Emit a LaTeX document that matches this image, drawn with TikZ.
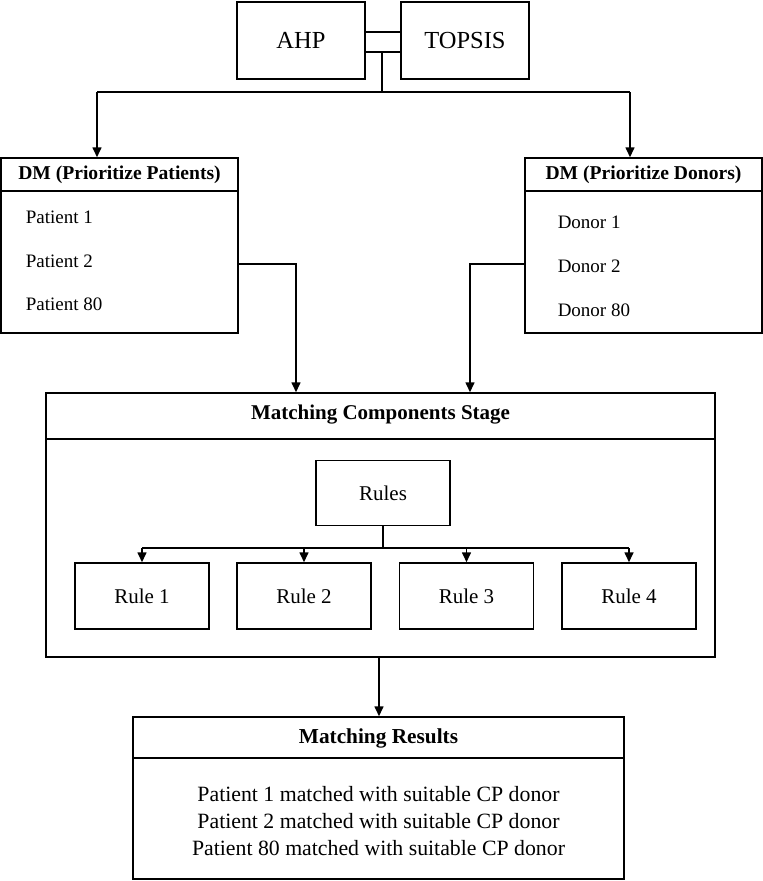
\documentclass[tikz,border=0pt]{standalone}
\usepackage{fontspec}
\setmainfont{Liberation Serif}
\usetikzlibrary{arrows.meta}
\begin{document}
\begin{tikzpicture}[x=1pt,y=-1pt,line width=1.5pt,
  box/.style={draw,line width=1.5pt,inner sep=0pt,align=center},
  item/.style={inner sep=0pt,anchor=base west,font=\fontsize{19}{22}\selectfont},
  ttl/.style={inner sep=0pt,font=\bfseries\fontsize{19.6}{23}\selectfont},
  res/.style={inner sep=0pt,anchor=base,font=\fontsize{21.8}{26}\selectfont},
  rulebox/.style={box,minimum width=134pt,minimum height=66pt,font=\fontsize{21}{24}\selectfont},
  arr/.style={-{Triangle[length=10pt,width=9pt]},line width=1.6pt},
  ln/.style={line width=1.6pt}]
\useasboundingbox (0,0) rectangle (763,881);
% top boxes
\node[box,minimum width=128pt,minimum height=77pt,font=\fontsize{24.5}{28}\selectfont] (ahp) at (301,40.5) {AHP};
\node[box,minimum width=128pt,minimum height=77pt,font=\fontsize{24.5}{28}\selectfont] (topsis) at (465,40.5) {TOPSIS};
\node[box,minimum width=36pt,minimum height=20pt] (link) at (383,42) {};
\coordinate (stem) at (382,92);
\coordinate (busL) at (97,92);
\coordinate (busR) at (630,92);
\draw[ln] (link.south -| stem) -- (stem);
\draw[ln] (busL) -- (busR);
% DM patients
\node[box,minimum width=237pt,minimum height=175pt] (dmp) at (119.5,245.5) {};
\node[ttl] (dmpt) at (119.5,175) {DM (Prioritize Patients)};
\draw[ln] (dmp.west |- 0,191) -- (dmp.east |- 0,191);
\node[item] (p1) at (25,223) {Patient 1};
\node[item] (p2) at (25,267) {Patient 2};
\node[item] (p80) at (25,310) {Patient 80};
% DM donors
\node[box,minimum width=237pt,minimum height=175pt] (dmd) at (643.5,245.5) {};
\node[ttl] (dmdt) at (643.5,175) {DM (Prioritize Donors)};
\draw[ln] (dmd.west |- 0,191) -- (dmd.east |- 0,191);
\node[item] (d1) at (557,228) {Donor 1};
\node[item] (d2) at (557,272) {Donor 2};
\node[item] (d80) at (557,316) {Donor 80};
\draw[arr] (busL) -- (busL |- dmp.north);
\draw[arr] (busR) -- (busR |- dmd.north);
% matching components
\node[box,minimum width=669pt,minimum height=264pt] (mc) at (380.5,525) {};
\node[ttl,font=\bfseries\fontsize{21}{24}\selectfont] (mct) at (380.5,415) {Matching Components Stage};
\draw[ln] (mc.west |- 0,439) -- (mc.east |- 0,439);
\coordinate (pc) at (296,264);
\coordinate (dc) at (470,264);
\draw[arr] (dmp.east |- pc) -- (pc) -- (pc |- mc.north);
\draw[arr] (dmd.west |- dc) -- (dc) -- (dc |- mc.north);
\node[box,minimum width=134pt,minimum height=65pt,font=\fontsize{21}{24}\selectfont] (rules) at (383,493) {Rules};
\node[rulebox] (r1) at (142,596) {Rule 1};
\node[rulebox] (r2) at (304,596) {Rule 2};
\node[rulebox] (r3) at (466.5,596) {Rule 3};
\node[rulebox] (r4) at (629,596) {Rule 4};
\coordinate (rbus) at (383,548);
\draw[ln] (rules.south) -- (rbus);
\draw[ln] (r1.north |- rbus) -- (r4.north |- rbus);
\foreach \r in {r1,r2,r3,r4} \draw[arr] (\r.north |- rbus) -- (\r.north);
% results
\node[box,minimum width=491pt,minimum height=162pt] (res) at (378.5,798) {};
\node[ttl,font=\bfseries\fontsize{21.3}{24}\selectfont] (rest) at (378.5,738) {Matching Results};
\draw[ln] (res.west |- 0,758) -- (res.east |- 0,758);
\coordinate (mcout) at (379,657);
\draw[arr] (mcout) -- (mcout |- res.north);
\node[res] (m1) at (378.5,801) {Patient 1 matched with suitable CP donor};
\node[res] (m2) at (378.5,828) {Patient 2 matched with suitable CP donor};
\node[res] (m80) at (378.5,855) {Patient 80 matched with suitable CP donor};
\end{tikzpicture}
\end{document}
